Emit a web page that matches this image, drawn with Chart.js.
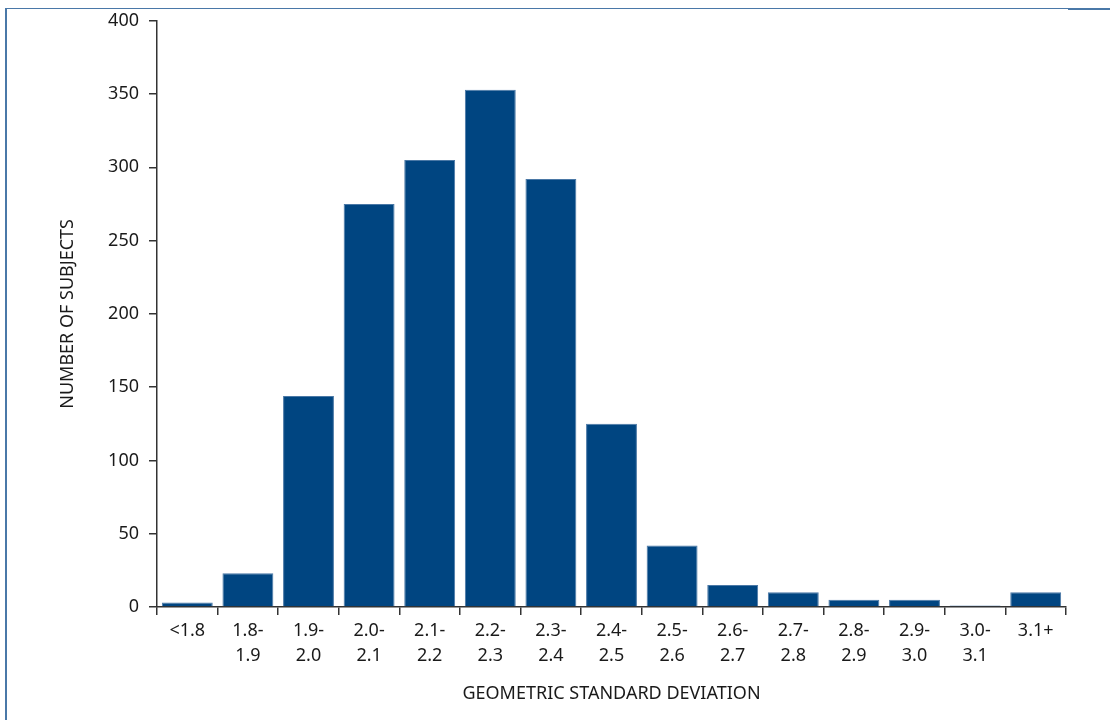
<!DOCTYPE html>
<html>
<head>
<meta charset="utf-8">
<script src="https://cdn.jsdelivr.net/npm/chart.js@4"></script>
<style>
  html, body { margin:0; padding:0; background:#fff; }
  #wrap { position:relative; width:1110px; height:720px; }
  #frameL { position:absolute; left:5px; top:8px; width:2px; height:712px; background:#4a78a8; }
  #frameT { position:absolute; left:5px; top:8px; width:1063px; height:1px; background:#4a78a8; }
  #frameT2 { position:absolute; left:1068px; top:8px; width:42px; height:2px; background:#4a78a8; }
  canvas { position:absolute; left:0; top:0; }
</style>
</head>
<body>
<div id="wrap">
  <canvas id="c" width="1110" height="720"></canvas>
  <div id="frameL"></div><div id="frameT"></div><div id="frameT2"></div>
</div>
<script>
const categories = [
  ['<1.8'], ['1.8-','1.9'], ['1.9-','2.0'], ['2.0-','2.1'], ['2.1-','2.2'],
  ['2.2-','2.3'], ['2.3-','2.4'], ['2.4-','2.5'], ['2.5-','2.6'], ['2.6-','2.7'],
  ['2.7-','2.8'], ['2.8-','2.9'], ['2.9-','3.0'], ['3.0-','3.1'], ['3.1+']
];
const subjects = [3, 23, 144, 275, 305, 353, 292, 125, 42, 15, 10, 5, 5, 1, 10];
const yMin = 0, yMax = 400, yStep = 50;
const xTitle = 'GEOMETRIC STANDARD DEVIATION';
const yTitle = 'NUMBER OF SUBJECTS';

const FONT = '"Noto Sans", sans-serif';
const TXT = '#1a1a1a';
const AX = '#333333';

new Chart(document.getElementById('c'), {
  type: 'bar',
  data: {
    labels: categories,
    datasets: [{
      data: subjects,
      backgroundColor: '#004581',
      borderColor: '#4a78a6',
      borderWidth: 1,
      borderSkipped: 'bottom',
      barPercentage: 0.84,
      categoryPercentage: 1.0
    }]
  },
  options: {
    responsive: false,
    animation: false,
    events: [],
    layout: { padding: { top: 20, right: 44, left: 0, bottom: 0 } },
    plugins: { legend: { display: false }, tooltip: { enabled: false } },
    scales: {
      x: {
        grid: { display: true, drawOnChartArea: false, drawTicks: true, tickLength: 8, offset: true, color: AX, lineWidth: 1.5 },
        border: { display: true, color: AX, width: 1.5 },
        ticks: { color: TXT, font: { family: FONT, size: 18, lineHeight: 1.42 }, padding: 3, maxRotation: 0, autoSkip: false },
        title: { display: true, text: xTitle, color: TXT, font: { family: FONT, size: 18 }, padding: { top: 0, bottom: 15 } },
        afterFit: s => { s.height = 113; }
      },
      y: {
        min: yMin, max: yMax,
        grid: { display: true, drawOnChartArea: false, drawTicks: true, tickLength: 8, color: AX, lineWidth: 1.5 },
        border: { display: true, color: AX, width: 1.5 },
        ticks: { stepSize: yStep, color: TXT, font: { family: FONT, size: 18 }, padding: 10 },
        title: { display: true, text: yTitle, color: TXT, font: { family: FONT, size: 18 }, padding: { top: 57, bottom: 0 } },
        afterFit: s => { s.width = 157; }
      }
    }
  }
});
</script>
</body>
</html>
